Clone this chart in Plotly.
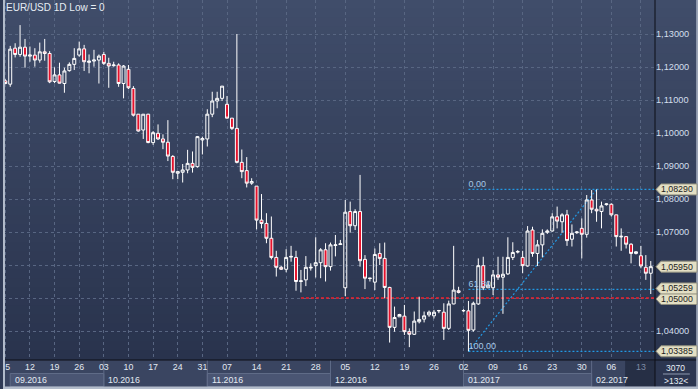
import plotly.graph_objects as go

# ---------------- data ----------------
title_text = "EUR/USD 1D Low = 0"

candle_idx = list(range(132))
open_ = [1.1158, 1.1148, 1.1257, 1.1238, 1.1260, 1.1233, 1.1236, 1.1221, 1.1246, 1.1241,
         1.1156, 1.1176, 1.1150, 1.1189, 1.1208, 1.1236, 1.1255, 1.1214, 1.1218, 1.1221,
         1.1238, 1.1211, 1.1204, 1.1206, 1.1150, 1.1193, 1.1135, 1.1057, 1.1009, 1.1057,
         1.0971, 1.0999, 1.0982, 1.0972, 1.0929, 1.0878, 1.0881, 1.0888, 1.0908, 1.0898,
         1.0979, 1.0982, 1.1057, 1.1097, 1.1105, 1.1087, 1.1045, 1.1014, 1.0911, 1.0886,
         1.0848, 1.0839, 1.0736, 1.0726, 1.0681, 1.0623, 1.0593, 1.0587, 1.0624, 1.0623,
         1.0550, 1.0555, 1.0591, 1.0598, 1.0607, 1.0646, 1.0595, 1.0659, 1.0662, 1.0531,
         1.0762, 1.0719, 1.0762, 1.0617, 1.0559, 1.0548, 1.0635, 1.0620, 1.0532, 1.0411,
         1.0443, 1.0445, 1.0398, 1.0390, 1.0428, 1.0436, 1.0449, 1.0446, 1.0461, 1.0457,
         1.0408, 1.0482, 1.0522, 1.0461, 1.0461, 1.0403, 1.0482, 1.0598, 1.0531, 1.0531,
         1.0570, 1.0563, 1.0573, 1.0623, 1.0639, 1.0623, 1.0597, 1.0706, 1.0635, 1.0661,
         1.0699, 1.0703, 1.0746, 1.0731, 1.0752, 1.0678, 1.0698, 1.0711, 1.0693, 1.0797,
         1.0769, 1.0762, 1.0783, 1.0784, 1.0752, 1.0685, 1.0686, 1.0663, 1.0635, 1.0628,
         1.0593, 1.0575]
high_ = [1.1163, 1.1264, 1.1272, 1.1327, 1.1285, 1.1262, 1.1257, 1.1274, 1.1285, 1.1248,
         1.1199, 1.1213, 1.1198, 1.1214, 1.1257, 1.1277, 1.1267, 1.1238, 1.1252, 1.1238,
         1.1246, 1.1228, 1.1216, 1.1211, 1.1206, 1.1206, 1.1142, 1.1057, 1.1057, 1.1058,
         1.1006, 1.1026, 1.0996, 1.1039, 1.0933, 1.0883, 1.0906, 1.0949, 1.0944, 1.0991,
         1.0989, 1.1072, 1.1125, 1.1125, 1.1142, 1.1112, 1.1045, 1.1300, 1.0950, 1.0927,
         1.0863, 1.0839, 1.0815, 1.0757, 1.0747, 1.0643, 1.0597, 1.0648, 1.0658, 1.0643,
         1.0585, 1.0627, 1.0605, 1.0684, 1.0651, 1.0666, 1.0668, 1.0691, 1.0676, 1.0797,
         1.0792, 1.0769, 1.0873, 1.0630, 1.0561, 1.0650, 1.0666, 1.0668, 1.0534, 1.0474,
         1.0452, 1.0479, 1.0408, 1.0459, 1.0504, 1.0459, 1.0462, 1.0464, 1.0464, 1.0484,
         1.0492, 1.0658, 1.0534, 1.0466, 1.0491, 1.0489, 1.0620, 1.0625, 1.0552, 1.0585,
         1.0625, 1.0625, 1.0684, 1.0669, 1.0645, 1.0643, 1.0718, 1.0716, 1.0676, 1.0708,
         1.0708, 1.0757, 1.0777, 1.0757, 1.0767, 1.0723, 1.0703, 1.0741, 1.0812, 1.0827,
         1.0829, 1.0792, 1.0787, 1.0787, 1.0752, 1.0711, 1.0686, 1.0666, 1.0642, 1.0658,
         1.0630, 1.0612]
low_ = [1.1148, 1.1140, 1.1229, 1.1231, 1.1198, 1.1216, 1.1201, 1.1213, 1.1219, 1.1151,
        1.1151, 1.1150, 1.1122, 1.1186, 1.1191, 1.1231, 1.1188, 1.1181, 1.1201, 1.1150,
        1.1206, 1.1137, 1.1201, 1.1140, 1.1105, 1.1133, 1.1050, 1.1004, 1.0982, 1.0969,
        1.0964, 1.0979, 1.0951, 1.0915, 1.0860, 1.0860, 1.0850, 1.0878, 1.0880, 1.0895,
        1.0935, 1.0959, 1.1048, 1.1075, 1.1097, 1.1044, 1.1009, 1.0908, 1.0863, 1.0835,
        1.0843, 1.0708, 1.0711, 1.0666, 1.0617, 1.0565, 1.0585, 1.0578, 1.0610, 1.0522,
        1.0517, 1.0536, 1.0583, 1.0562, 1.0560, 1.0550, 1.0583, 1.0626, 1.0661, 1.0506,
        1.0698, 1.0706, 1.0595, 1.0527, 1.0550, 1.0524, 1.0600, 1.0499, 1.0365, 1.0398,
        1.0443, 1.0388, 1.0351, 1.0388, 1.0423, 1.0426, 1.0443, 1.0438, 1.0454, 1.0373,
        1.0403, 1.0481, 1.0514, 1.0458, 1.03385, 1.0398, 1.0479, 1.0524, 1.0531, 1.0509,
        1.0555, 1.0452, 1.0570, 1.0615, 1.0635, 1.0575, 1.0595, 1.0625, 1.0597, 1.0623,
        1.0694, 1.0701, 1.0711, 1.0698, 1.0658, 1.0656, 1.0694, 1.0620, 1.0683, 1.0757,
        1.0731, 1.0711, 1.0780, 1.0747, 1.0656, 1.0643, 1.0650, 1.0605, 1.0632, 1.0590,
        1.0555, 1.0512]
close_ = [1.1150, 1.1254, 1.1238, 1.1260, 1.1233, 1.1236, 1.1221, 1.1246, 1.1241, 1.1155,
          1.1176, 1.1151, 1.1188, 1.1208, 1.1226, 1.1255, 1.1216, 1.1218, 1.1221, 1.1233,
          1.1211, 1.1203, 1.1206, 1.1150, 1.1203, 1.1137, 1.1054, 1.1006, 1.1057, 1.0971,
          1.1001, 1.0982, 1.0972, 1.0930, 1.0881, 1.0883, 1.0888, 1.0908, 1.0896, 1.0989,
          1.0983, 1.1057, 1.1097, 1.1105, 1.1142, 1.1045, 1.1014, 1.0911, 1.0883, 1.0848,
          1.0853, 1.0736, 1.0726, 1.0681, 1.0623, 1.0593, 1.0587, 1.0623, 1.0626, 1.0550,
          1.0552, 1.0593, 1.0593, 1.0607, 1.0646, 1.0595, 1.0661, 1.0661, 1.0664, 1.0760,
          1.0719, 1.0762, 1.0613, 1.0560, 1.0560, 1.0632, 1.0620, 1.0532, 1.0411, 1.0441,
          1.0450, 1.0398, 1.0390, 1.0430, 1.0435, 1.0446, 1.0457, 1.0457, 1.0462, 1.0408,
          1.0482, 1.0524, 1.0517, 1.0462, 1.0402, 1.0484, 1.0598, 1.0531, 1.0539, 1.0570,
          1.0563, 1.0572, 1.0623, 1.0638, 1.0641, 1.0598, 1.0703, 1.0635, 1.0661, 1.0696,
          1.0703, 1.0746, 1.0733, 1.0752, 1.0674, 1.0696, 1.0700, 1.0693, 1.0797, 1.0769,
          1.0764, 1.0779, 1.0785, 1.0752, 1.0686, 1.0687, 1.0663, 1.0635, 1.0640, 1.0597,
          1.0575, 1.0595]

# x-axis: week ticks (candle index) and their day labels
tick_idx = [0, 5, 10, 15, 20, 25, 30, 35, 40, 45, 51, 57, 63, 69, 75, 81, 87, 93,
            99, 105, 111, 117, 123, 129]
tick_text = ["5", "12", "19", "26", "03", "10", "17", "24", "31", "07", "14", "21",
             "28", "05", "12", "19", "26", "02", "09", "16", "23", "30", "06", "13"]
month_labels = ["09.2016", "10.2016", "11.2016", "12.2016", "01.2017", "02.2017"]
month_start = [1, 20, 41, 66, 93, 119]

# y-axis ticks
y_ticks = [1.04, 1.05, 1.06, 1.07, 1.08, 1.09, 1.10, 1.11, 1.12, 1.13]

# overlays
support_level = 1.05000
support_start = 60
fib_labels = ["0,00", "61,80", "100,00"]
fib_prices = [1.08290, 1.05259, 1.03385]
fib_start = 94
fib_peak = 120
tag_prices = [1.08290, 1.05950, 1.05000, 1.05259, 1.03385]
tag_yshift = [0, 0, -1, 1, 0]
footer_top = "3070"
footer_bottom = ">132<"
last_week_start = 125.8

# ---------------- geometry / style ----------------
W, H = 698, 389
ML, MR, MT, MB = 0, 43, 0, 29
PW, PH = W - ML - MR, H - MT - MB
X_RANGE = [-0.465, 131.86]
Y_RANGE = [1.031212, 1.140303]
FONT = "Liberation Sans, Arial, sans-serif"
GRID = "#586682"


def fx(px):
    return px / PW


def fy(py):
    return 1 - py / PH


def fmt(p):
    return ("%.5f" % p).replace(".", ",")


shapes = []

# background gradient (plot + right axis panel)
BG_TOP = (64, 77, 106)
BG_BOT = (41, 51, 77)
N = 40
for i in range(N):
    t = (i + 0.5) / N
    c = tuple(round(BG_TOP[k] + (BG_BOT[k] - BG_TOP[k]) * t) for k in range(3))
    shapes.append(dict(type="rect", xref="paper", yref="paper", x0=0, x1=fx(W),
                       y0=fy(i * PH / N - 0.5), y1=fy((i + 1) * PH / N + 0.5),
                       fillcolor="rgb(%d,%d,%d)" % c, line=dict(width=0), layer="below"))

# bottom time panel
shapes.append(dict(type="rect", xref="paper", yref="paper", x0=0, x1=fx(W),
                   y0=fy(360), y1=fy(H), fillcolor="#3a4561", line=dict(width=0), layer="below"))
for i, ms in enumerate(month_start):
    x1 = month_start[i + 1] if i + 1 < len(month_start) else X_RANGE[1]
    if i % 2 == 0:
        shapes.append(dict(type="rect", xref="x", yref="paper", x0=ms, x1=x1,
                           y0=fy(386.5), y1=fy(373.5), fillcolor="#4a5573",
                           line=dict(color="#5f6b87", width=1), layer="below"))
    if i > 0:
        shapes.append(dict(type="line", xref="x", yref="paper", x0=ms, x1=ms,
                           y0=fy(360), y1=fy(386.5), line=dict(color="#5f6b87", width=1),
                           layer="below"))
shapes.append(dict(type="rect", xref="x", yref="paper", x0=last_week_start, x1=X_RANGE[1],
                   y0=fy(386.5), y1=fy(360.5), fillcolor="#262f45", line=dict(width=0),
                   layer="below"))
# corner panel
shapes.append(dict(type="rect", xref="paper", yref="paper", x0=fx(655), x1=fx(W),
                   y0=fy(386.5), y1=fy(360), fillcolor="#2c3650", line=dict(width=0),
                   layer="below"))
shapes.append(dict(type="line", xref="paper", yref="paper", x0=fx(663), x1=fx(690),
                   y0=fy(374), y1=fy(374), line=dict(color="#8c98ae", width=1), layer="above"))

# support line and fibonacci
shapes.append(dict(type="line", xref="x", yref="y", x0=support_start, x1=X_RANGE[1],
                   y0=support_level, y1=support_level,
                   line=dict(color="#f0202c", width=1.5, dash="3px,2px"), layer="between"))
FIB = "#2398e2"
for p in fib_prices:
    shapes.append(dict(type="line", xref="x", yref="y", x0=fib_start, x1=X_RANGE[1],
                       y0=p, y1=p, line=dict(color=FIB, width=1.2, dash="2px,2px"),
                       layer="between"))
shapes.append(dict(type="line", xref="x", yref="y", x0=fib_start, x1=fib_peak,
                   y0=fib_prices[2], y1=fib_prices[0],
                   line=dict(color=FIB, width=1.2, dash="2px,2px"), layer="between"))

# frame and separators
shapes.append(dict(type="line", xref="paper", yref="paper", x0=fx(655), x1=fx(655),
                   y0=fy(0), y1=fy(H), line=dict(color="#0c0f16", width=1), layer="above"))
shapes.append(dict(type="line", xref="paper", yref="paper", x0=0, x1=fx(W),
                   y0=fy(360), y1=fy(360), line=dict(color="#0c0f16", width=1), layer="above"))
for r in [(0, 0, 2, H), (0, 386.5, W, H), (696.5, 0, W, H)]:
    shapes.append(dict(type="rect", xref="paper", yref="paper", x0=fx(r[0]), x1=fx(r[2]),
                       y0=fy(r[3]), y1=fy(r[1]), fillcolor="#b3bccb", line=dict(width=0),
                       layer="above"))

annotations = []
# price tags on the right axis
for p, ys in zip(tag_prices, tag_yshift):
    shapes.append(dict(type="path", xref="paper", xsizemode="pixel", xanchor=1,
                       yref="y", ysizemode="pixel", yanchor=p,
                       path="M 1 %g L 6 %g L 42 %g L 42 %g L 6 %g Z" % (ys, ys + 5.5, ys + 5.5, ys - 5.5, ys - 5.5),
                       fillcolor="#e3dfc4", line=dict(color="#8f8e7e", width=1),
                       layer="above"))
    annotations.append(dict(xref="paper", x=1, xshift=5, xanchor="left", yref="y", y=p,
                            yshift=ys, yanchor="middle", text=fmt(p), borderpad=0,
                            showarrow=False, font=dict(family=FONT, size=8.8, color="#1c1c1c")))

annotations.append(dict(xref="paper", x=fx(1.5), xanchor="left", yref="paper", y=fy(7.5),
                        yanchor="middle", text=title_text, showarrow=False,
                        font=dict(family=FONT, size=10, color="#e6ecf3")))
for lab, ms in zip(month_labels, month_start):
    annotations.append(dict(xref="x", x=ms, xshift=2.5, xanchor="left", yref="paper",
                            y=fy(380.3), yanchor="middle", text=lab, showarrow=False,
                            font=dict(family=FONT, size=8.8, color="#e4ebf3")))
annotations.append(dict(xref="paper", x=fx(676), xanchor="center", yref="paper", y=fy(367.5),
                        yanchor="middle", text=footer_top, showarrow=False,
                        font=dict(family=FONT, size=8.5, color="#e8eef5")))
annotations.append(dict(xref="paper", x=fx(676), xanchor="center", yref="paper", y=fy(380.5),
                        yanchor="middle", text=footer_bottom, showarrow=False,
                        font=dict(family=FONT, size=8.5, color="#e8eef5")))

tick_labels = list(tick_text)
# first label sits at the cut left edge: pad it so the visible digit clears the frame
tick_labels[0] = "&nbsp;&nbsp;" + tick_labels[0]
tick_labels[-1] = '<span style="color:#7f8ba4">%s</span>' % tick_labels[-1]
# axis labels hidden behind the price tags (as in the reference)
y_tick_text = ["" if any(abs(v - p) < 0.0025 for p in tag_prices) else fmt(v) for v in y_ticks]

fig = go.Figure()
fig.add_trace(go.Scatter(x=[fib_start] * len(fib_prices), y=fib_prices, text=fib_labels,
                         mode="text", textposition="top right",
                         textfont=dict(family=FONT, size=9, color="#a6c8e6"),
                         hoverinfo="skip", showlegend=False))
fig.add_trace(go.Candlestick(
    x=candle_idx, open=open_, high=high_, low=low_, close=close_,
    increasing=dict(line=dict(color="#ffffff", width=1), fillcolor="rgba(0,0,0,0)"),
    decreasing=dict(line=dict(color="#ffffff", width=1), fillcolor="#e5122c"),
    whiskerwidth=0, hoverinfo="skip", showlegend=False))

fig.update_layout(
    width=W, height=H, margin=dict(l=ML, r=MR, t=MT, b=MB, pad=0),
    paper_bgcolor="#2f3a55", plot_bgcolor="rgba(0,0,0,0)",
    separators=",.", showlegend=False, boxgap=0.4, boxgroupgap=0,
    font=dict(family=FONT),
    xaxis=dict(range=X_RANGE, tickmode="array", tickvals=tick_idx, ticktext=tick_labels,
               ticks="", showgrid=True, gridcolor=GRID, griddash="3px,3px", gridwidth=1,
               zeroline=False, showline=False, ticklabeloverflow="allow",
               tickfont=dict(family=FONT, size=8.8, color="#e2e9f2"),
               rangeslider=dict(visible=False), fixedrange=True),
    yaxis=dict(range=Y_RANGE, side="right", tickmode="array", tickvals=y_ticks,
               ticktext=y_tick_text, ticks="", showgrid=True, gridcolor=GRID,
               griddash="3px,3px", gridwidth=1, zeroline=False, showline=False,
               tickfont=dict(family=FONT, size=9.2, color="#d3dfec"), fixedrange=True),
    shapes=shapes, annotations=annotations,
)

fig.write_html("out.html", config={"displayModeBar": False},
               post_script="document.body.style.margin='0';document.body.style.overflow='hidden';")
